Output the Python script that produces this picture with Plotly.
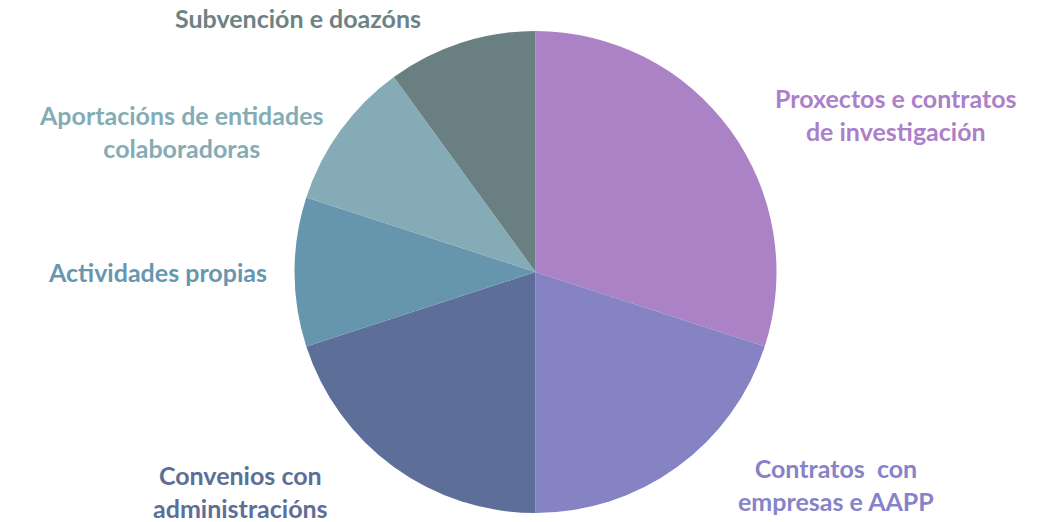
import plotly.graph_objects as go

# Funding sources and their shares (%)
categories = [
    "Proxectos e contratos<br>de investigación",
    "Contratos  con<br>empresas e AAPP",
    "Convenios con<br>administracións",
    "Actividades propias",
    "Aportacións de entidades<br>colaboradoras",
    "Subvención e doazóns",
]
shares = [30, 20, 20, 10, 10, 10]

slice_colors = ["#AB82C5", "#8583C4", "#5D6F98", "#6695AE", "#84ABB6", "#6A7F81"]
label_colors = ["#AC80C9", "#8683C8", "#5B6F98", "#6796B0", "#84ACB5", "#6E8283"]
# label anchor points in pixels (x, y from top)
label_px = [(896, 114), (836, 484), (240, 491), (157, 272), (181, 131), (298, 18)]

W, H = 1048, 522
cx, cy, r = 535.5, 272, 241

fig = go.Figure(
    go.Pie(
        labels=categories,
        values=shares,
        sort=False,
        direction="clockwise",
        rotation=0,
        textinfo="none",
        hoverinfo="label+percent",
        marker=dict(colors=slice_colors, line=dict(width=0)),
        domain=dict(
            x=[(cx - r) / W, (cx + r) / W],
            y=[1 - (cy + r) / H, 1 - (cy - r) / H],
        ),
        showlegend=False,
    )
)

for text, color, (px, py) in zip(categories, label_colors, label_px):
    fig.add_annotation(
        text=text,
        x=px / W,
        y=1 - py / H,
        xref="paper",
        yref="paper",
        xanchor="center",
        yanchor="middle",
        showarrow=False,
        align="center",
        font=dict(family="Lato", size=25, color=color, weight="bold"),
    )

fig.update_layout(
    width=W,
    height=H,
    margin=dict(l=0, r=0, t=0, b=0),
    paper_bgcolor="white",
    plot_bgcolor="white",
)

fig.write_html("out.html")
